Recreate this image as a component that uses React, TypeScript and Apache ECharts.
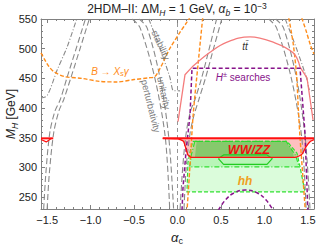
import React, { useEffect, useRef } from "react";
import * as echarts from "echarts";

const X_MIN = -Math.PI / 2;
const X_MAX = Math.PI / 2;
const Y_MIN = 230;
const Y_MAX = 550;

const xMajor = [-1.5, -1, -0.5, 0, 0.5, 1, 1.5];
const xMinor = [-1.5, -1.4, -1.3, -1.2, -1.1, -1.0, -0.9, -0.8, -0.7, -0.6, -0.5, -0.4, -0.3, -0.2, -0.1, 0, 0.1, 0.2, 0.3, 0.4, 0.5, 0.6, 0.7, 0.8, 0.9, 1.0, 1.1, 1.2, 1.3, 1.4, 1.5];
const yMajor = [250, 300, 350, 400, 450, 500, 550];
const yMinor = [230, 240, 250, 260, 270, 280, 290, 300, 310, 320, 330, 340, 350, 360, 370, 380, 390, 400, 410, 420, 430, 440, 450, 460, 470, 480, 490, 500, 510, 520, 530, 540, 550];

// gray perturbativity / unitarity contours
const leftArchLeftA = [[-1.54, 230], [-1.515, 290], [-1.47, 358], [-1.41, 395], [-1.35, 414], [-1.27, 452], [-1.16, 503], [-1.06, 550]];
const leftArchLeftB = [[-1.50, 230], [-1.475, 290], [-1.425, 358], [-1.365, 395], [-1.31, 414], [-1.225, 452], [-1.115, 503], [-1.015, 550]];
const leftArchRightA = [[-0.52, 550], [-0.43, 535], [-0.26, 450], [-0.14, 350], [-0.09, 230]];
const leftArchRightB = [[-0.44, 550], [-0.35, 535], [-0.2, 450], [-0.1, 350], [-0.045, 230]];
const rightArchLeftA = [[0.03, 230], [0.06, 300], [0.1, 358], [0.15, 395], [0.2, 414], [0.28, 452], [0.37, 503], [0.45, 550]];
const rightArchLeftB = [[0.075, 230], [0.1, 300], [0.145, 358], [0.19, 388], [0.245, 414], [0.325, 452], [0.42, 503], [0.51, 550]];
const rightArchRightA = [[1.05, 550], [1.14, 535], [1.31, 450], [1.43, 350], [1.48, 230]];
const rightArchRightB = [[1.13, 550], [1.22, 535], [1.37, 450], [1.47, 350], [1.525, 230]];
const zeroLine = [[0, 230], [0, 550]];

// gray stability (dash-dot)
const stabLeft = [[-1.571, 417], [-1.5, 421], [-1.385, 464], [-1.27, 503], [-1.16, 550]];
const stabMid = [[-0.33, 550], [-0.2, 500], [-0.086, 451], [-0.052, 430], [0.03, 429]];
const stabRight = [[1.24, 550], [1.37, 500], [1.485, 451], [1.52, 430], [1.571, 429]];

// orange B -> Xs gamma
const bsgLeft = [[-1.571, 493], [-1.53, 482], [-1.48, 470], [-1.42, 461], [-1.3, 453], [-1.1, 450], [-0.9, 445], [-0.7, 444], [-0.5, 448], [-0.33, 451], [-0.26, 453], [-0.2, 467], [-0.14, 485], [-0.086, 501], [0.03, 528], [0.11, 545], [0.14, 552]];
const bsgRight = [[1.43, 552], [1.48, 530], [1.53, 506], [1.571, 491]];
const bsgInnerL = [[0.29, 552], [0.236, 473], [0.18, 388], [0.144, 304], [0.11, 228]];
const bsgInnerR = [[1.28, 552], [1.33, 510], [1.37, 456], [1.39, 400], [1.41, 350], [1.44, 290], [1.47, 228]];

// pink t tbar
const ttLeft = [[0.006, 377], [0.086, 456], [0.167, 469]];
const ttArc = [[0.167, 469], [0.374, 494], [0.57, 511], [0.835, 520], [1.1, 511], [1.33, 493], [1.41, 469]];
const ttRight = [[1.41, 469], [1.49, 451], [1.56, 380]];

// purple H+- searches
const hpBox = [[0.052, 228], [0.063, 265], [0.1, 330], [0.144, 388], [0.167, 467], [1.41, 467], [1.467, 358], [1.5, 228]];
const hpArc = [[0.47, 228], [0.55, 245], [0.65, 257], [0.78, 262], [0.92, 257], [1.02, 245], [1.1, 228]];

// red WW/ZZ
const wwTop = [[-0.17, 349], [1.571, 349]];
const wwBottom = [[-0.17, 349], [0.0, 348], [0.03, 347], [0.07, 344], [0.1, 330], [0.12, 321], [0.16, 317], [1.35, 317], [1.43, 322], [1.48, 335], [1.53, 344], [1.571, 347]];
const wwLeftTop = [[-1.571, 349], [-1.43, 349]];
const wwLeftBottom = [[-1.571, 347], [-1.51, 343], [-1.45, 349]];

// green hh
const hhOuter = [[0.177, 344], [1.26, 344], [1.375, 324], [1.41, 301], [1.467, 259], [0.109, 259], [0.12, 308], [0.15, 330]];
const hhMid = [[0.2, 344], [1.25, 344], [1.36, 320], [1.4, 301], [0.14, 301], [0.16, 322]];
const hhInner = [[0.22, 344], [1.24, 344], [1.32, 330], [1.34, 317], [0.2, 317], [0.21, 330]];
const hhHex = [[0.47, 315], [0.53, 321], [1.03, 321], [1.09, 315], [1.03, 305], [0.53, 305], [0.47, 315]];

const FONT = "'Liberation Sans', Arial, Helvetica, sans-serif";
const GRAY = "#8a8a8a";
const ORANGE = "#ff8c1a";
const PURPLE = "#87138a";
const PINK = "#f47c7c";
const RED = "#ff1010";
const GREEN = "#2fe02f";

const ln = (data: number[][], color: string, width: number, type: any, smooth: number | boolean = false, z = 5) => ({
  type: "line",
  data,
  symbol: "none",
  showSymbol: false,
  smooth,
  lineStyle: { color, width, type, cap: "butt" },
  z,
  silent: true,
  clip: true,
});

const poly = (pts: number[][], style: any, z = 2) => ({
  type: "custom",
  renderItem: (_p: any, api: any) => ({
    type: "polygon",
    shape: { points: pts.map((q) => api.coord(q)) },
    style,
  }),
  data: [[0, 300]],
  z,
  silent: true,
  clip: true,
});

const axisBase = (min: number, max: number) => ({
  type: "value",
  min,
  max,
  splitLine: { show: false },
});

export default function App() {
  const ref = useRef<HTMLDivElement>(null);
  useEffect(() => {
    const chart = echarts.init(ref.current!, null, { renderer: "svg" });
    const fmtX = (v: number) => (v < 0 ? "\u2212" : "") + Math.abs(v).toFixed(1);
    const tickStyle = { color: "#808080", width: 1 };
    const option: any = {
      animation: false,
      grid: { left: 41, right: 18, top: 19, bottom: 37, containLabel: false, outerBoundsMode: "none" },
      xAxis: [
        {
          ...axisBase(X_MIN, X_MAX),
          position: "bottom",
          axisLine: { show: true, onZero: false, lineStyle: tickStyle },
          axisTick: { show: true, inside: true, length: 4, customValues: xMajor, lineStyle: tickStyle },
          axisLabel: { show: true, customValues: xMajor, formatter: fmtX, color: "#222", fontSize: 11, fontFamily: FONT, margin: 5 },
        },
        {
          ...axisBase(X_MIN, X_MAX),
          position: "bottom",
          axisLine: { show: false, onZero: false },
          axisTick: { show: true, inside: true, length: 2, customValues: xMinor, lineStyle: tickStyle },
          axisLabel: { show: false },
        },
        {
          ...axisBase(X_MIN, X_MAX),
          position: "top",
          axisLine: { show: true, onZero: false, lineStyle: tickStyle },
          axisTick: { show: true, inside: true, length: 4, customValues: xMajor, lineStyle: tickStyle },
          axisLabel: { show: false },
        },
        {
          ...axisBase(X_MIN, X_MAX),
          position: "top",
          axisLine: { show: false, onZero: false },
          axisTick: { show: true, inside: true, length: 2, customValues: xMinor, lineStyle: tickStyle },
          axisLabel: { show: false },
        },
      ],
      yAxis: [
        {
          ...axisBase(Y_MIN, Y_MAX),
          position: "left",
          axisLine: { show: true, onZero: false, lineStyle: tickStyle },
          axisTick: { show: true, inside: true, length: 4, customValues: yMajor, lineStyle: tickStyle },
          axisLabel: { show: true, customValues: yMajor, color: "#222", fontSize: 11, fontFamily: FONT, margin: 4 },
        },
        {
          ...axisBase(Y_MIN, Y_MAX),
          position: "left",
          axisLine: { show: false, onZero: false },
          axisTick: { show: true, inside: true, length: 2, customValues: yMinor, lineStyle: tickStyle },
          axisLabel: { show: false },
        },
        {
          ...axisBase(Y_MIN, Y_MAX),
          position: "right",
          axisLine: { show: true, onZero: false, lineStyle: tickStyle },
          axisTick: { show: true, inside: true, length: 4, customValues: yMajor, lineStyle: tickStyle },
          axisLabel: { show: false },
        },
        {
          ...axisBase(Y_MIN, Y_MAX),
          position: "right",
          axisLine: { show: false, onZero: false },
          axisTick: { show: true, inside: true, length: 2, customValues: yMinor, lineStyle: tickStyle },
          axisLabel: { show: false },
        },
      ],
      series: [
        poly(wwTop.concat(wwBottom.slice().reverse()), { fill: "rgba(255,90,90,0.38)" }, 1),
        poly(hhOuter, { fill: "rgba(90,240,90,0.22)", stroke: GREEN, lineWidth: 1.2, lineDash: [4, 2] }, 2),
        poly(hhMid, { fill: "rgba(60,225,60,0.22)", stroke: GREEN, lineWidth: 1.2, lineDash: [5, 2, 1, 2] }, 3),
        poly(hhInner, { fill: "rgba(40,190,40,0.35)", stroke: "none" }, 3),
        ln(hhHex, "#22cc22", 1.2, "solid", false, 4),
        ln(leftArchLeftA, GRAY, 1.1, [6, 3], 0.3),
        ln(leftArchLeftB, GRAY, 1.1, [6, 3], 0.3),
        ln(leftArchRightA, GRAY, 1.1, [6, 3], 0.3),
        ln(leftArchRightB, GRAY, 1.1, [6, 3], 0.3),
        ln(rightArchLeftA, GRAY, 1.1, [6, 3], 0.3),
        ln(rightArchLeftB, GRAY, 1.1, [6, 3], 0.3),
        ln(rightArchRightA, GRAY, 1.1, [6, 3], 0.3),
        ln(rightArchRightB, GRAY, 1.1, [6, 3], 0.3),
        ln(zeroLine, GRAY, 0.9, [4, 3]),
        ln(stabLeft, GRAY, 1.1, [5, 2, 1, 2], 0.3),
        ln(stabMid, GRAY, 1.1, [5, 2, 1, 2], 0.2),
        ln(stabRight, GRAY, 1.1, [5, 2, 1, 2], 0.2),
        ln(bsgLeft, ORANGE, 1.4, [4, 2], 0.3),
        ln(bsgRight, ORANGE, 1.4, [4, 2], 0.3),
        ln(bsgInnerL, ORANGE, 1.4, [4, 2], 0.3),
        ln(bsgInnerR, ORANGE, 1.4, [4, 2], 0.3),
        ln(ttLeft, PINK, 1.3, "solid", false),
        ln(ttArc, PINK, 1.3, "solid", 0.4),
        ln(ttRight, PINK, 1.3, "solid", false),
        ln(hpBox, PURPLE, 1.5, [4, 2.5], false, 6),
        ln(hpArc, PURPLE, 1.5, [4, 2.5], 0.4, 6),
        ln(wwTop, RED, 2, "solid", false, 7),
        ln(wwBottom, RED, 1.3, "solid", 0.2, 7),
        ln(wwLeftTop, RED, 2, "solid", false, 7),
        ln(wwLeftBottom, RED, 1.2, "solid", false, 7),
      ],
      graphic: [
        {
          type: "text", x: 177, y: 9, silent: true,
          style: {
            text: "2HDM\u2013II: \u0394M{sub|H} = 1 GeV, {it|\u03b1}{sub|b} = 10{sup|\u22123}",
            align: "center", verticalAlign: "middle", fill: "#222",
            font: `12px ${FONT}`, lineHeight: 16,
            rich: {
              sub: { fontSize: 8.5, fontStyle: "italic", fontFamily: FONT, verticalAlign: "bottom", lineHeight: 10, fill: "#222" },
              sup: { fontSize: 8.5, fontFamily: FONT, verticalAlign: "top", lineHeight: 10, fill: "#222" },
              it: { fontSize: 12, fontStyle: "italic", fontFamily: FONT, lineHeight: 16, fill: "#222" },
            },
          },
        },
        {
          type: "text", x: 11, y: 114, rotation: Math.PI / 2, silent: true,
          style: {
            text: "{it|M}{sub|H} [GeV]", align: "center", verticalAlign: "middle", fill: "#222",
            font: `12px ${FONT}`, lineHeight: 16,
            rich: {
              it: { fontSize: 12, fontStyle: "italic", fontFamily: FONT, lineHeight: 16, fill: "#222" },
              sub: { fontSize: 8.5, fontStyle: "italic", fontFamily: FONT, verticalAlign: "bottom", lineHeight: 10, fill: "#222" },
            },
          },
        },
        {
          type: "text", x: 177, y: 237, silent: true,
          style: {
            text: "{it|\u03b1}{sub|c}", align: "center", verticalAlign: "middle", fill: "#222",
            font: `13px ${FONT}`, lineHeight: 16,
            rich: {
              it: { fontSize: 13, fontStyle: "italic", fontFamily: FONT, lineHeight: 16, fill: "#222" },
              sub: { fontSize: 9, fontFamily: FONT, verticalAlign: "bottom", lineHeight: 10, fill: "#222" },
            },
          },
        },
        { type: "text", x: 161, y: 45, rotation: -66 * Math.PI / 180, silent: true, z: 20,
          style: { text: "stability", align: "center", verticalAlign: "middle", fill: "#7a7a7a", font: `9.5px ${FONT}` } },
        { type: "text", x: 164, y: 93, rotation: -78 * Math.PI / 180, silent: true, z: 20,
          style: { text: "unitarity", align: "center", verticalAlign: "middle", fill: "#7a7a7a", font: `9.5px ${FONT}` } },
        { type: "text", x: 151, y: 106, rotation: -76 * Math.PI / 180, silent: true, z: 20,
          style: { text: "perturbativity", align: "center", verticalAlign: "middle", fill: "#7a7a7a", font: `9.5px ${FONT}` } },
        {
          type: "text", x: 110, y: 71, silent: true, z: 20,
          style: {
            text: "{it|B} \u2192 {it|X}{sub|s}{it|\u03b3}", align: "center", verticalAlign: "middle", fill: ORANGE,
            font: `10px ${FONT}`, lineHeight: 13,
            rich: {
              it: { fontSize: 10, fontStyle: "italic", fontFamily: FONT, lineHeight: 13, fill: ORANGE },
              sub: { fontSize: 7.5, fontStyle: "italic", fontFamily: FONT, verticalAlign: "bottom", lineHeight: 8, fill: ORANGE },
            },
          },
        },
        { type: "text", x: 245, y: 46, silent: true, z: 20,
          style: { text: "tt\u0304", align: "center", verticalAlign: "middle", fill: "#333", font: `italic 10px ${FONT}` } },
        {
          type: "text", x: 243, y: 77, silent: true, z: 20,
          style: {
            text: "{it|H}{sup|\u00b1} searches", align: "center", verticalAlign: "middle", fill: PURPLE,
            font: `10px ${FONT}`, lineHeight: 13,
            rich: {
              it: { fontSize: 10, fontStyle: "italic", fontFamily: FONT, lineHeight: 13, fill: PURPLE },
              sup: { fontSize: 7.5, fontFamily: FONT, verticalAlign: "top", lineHeight: 8, fill: PURPLE },
            },
          },
        },
        { type: "text", x: 249, y: 150, silent: true, z: 20,
          style: { text: "WW/ZZ", align: "center", verticalAlign: "middle", fill: "#ee1111", font: `italic bold 12.5px ${FONT}` } },
        { type: "text", x: 245, y: 181, silent: true, z: 20,
          style: { text: "hh", align: "center", verticalAlign: "middle", fill: "#f0a020", font: `italic bold 12px ${FONT}` } },
      ],
    };
    chart.setOption(option);
    return () => chart.dispose();
  }, []);
  return <div ref={ref} style={{ position: "absolute", left: 0, top: 0, width: 332, height: 246 }} />;
}
